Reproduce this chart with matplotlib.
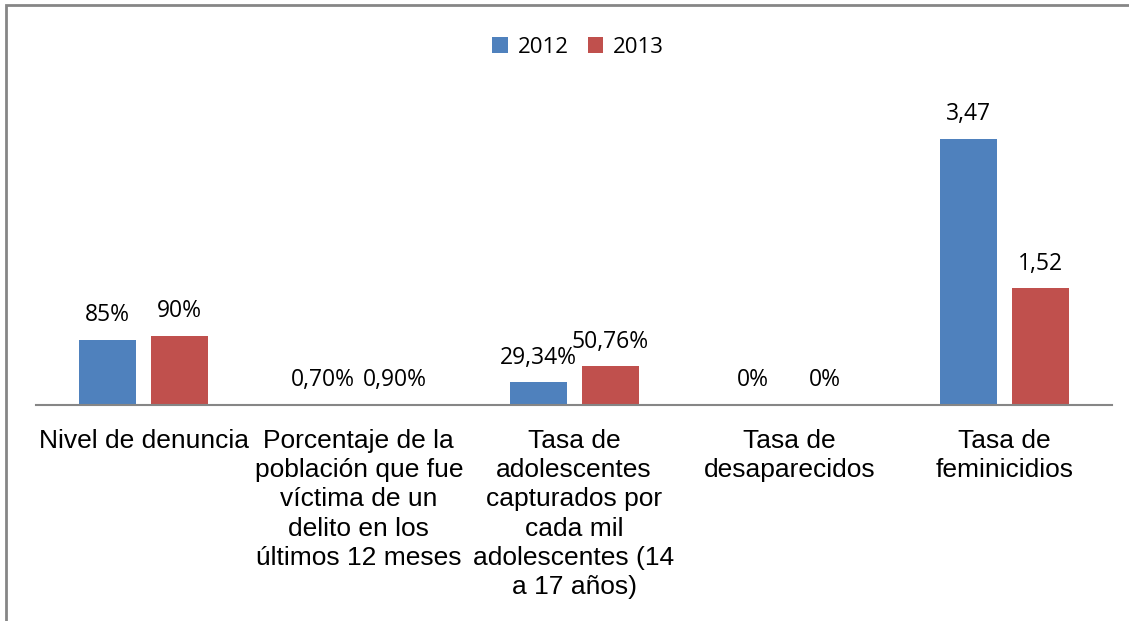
import numpy as np
import matplotlib.pyplot as plt
from matplotlib.patches import Rectangle

# categories and values (values plotted as raw numbers, like the original sheet)
categories = [
    'Nivel de denuncia',
    'Porcentaje de la\npoblación que fue\nvíctima de un\ndelito en los\núltimos 12 meses',
    'Tasa de\nadolescentes\ncapturados por\ncada mil\nadolescentes (14\na 17 años)',
    'Tasa de\ndesaparecidos',
    'Tasa de\nfeminicidios',
]
vals_2012 = [0.85, 0.007, 0.2934, 0.0, 3.47]
vals_2013 = [0.90, 0.009, 0.5076, 0.0, 1.52]
labels_2012 = ['85%', '0,70%', '29,34%', '0%', '3,47']
labels_2013 = ['90%', '0,90%', '50,76%', '0%', '1,52']

blue = '#4F81BD'
red = '#C0504D'
lbl_font = ['Open Sans', 'DejaVu Sans']
cat_font = ['Liberation Sans', 'DejaVu Sans']

fig = plt.figure(figsize=(11.29, 6.21), dpi=100)

# outer chart border (only left and top show in the crop)
fig.patches.append(Rectangle((6 / 1129, -0.1), 1.2, (621 - 4.5) / 621 + 0.1,
                             transform=fig.transFigure, fill=False,
                             edgecolor='#868686', linewidth=2))

ax = fig.add_axes([36 / 1129, (621 - 405) / 621, 1076 / 1129, 392 / 621])
x = np.arange(len(categories))
w = 57 / 215.2
gap = 15 / 215.2
b1 = ax.bar(x - (w + gap) / 2, vals_2012, w, color=blue, label='2012')
b2 = ax.bar(x + (w + gap) / 2, vals_2013, w, color=red, label='2013')

for bars, labs in [(b1, labels_2012), (b2, labels_2013)]:
    for rect, lab in zip(bars, labs):
        ax.annotate(lab, (rect.get_x() + rect.get_width() / 2, rect.get_height()),
                    xytext=(0, 9), textcoords='offset points',
                    ha='center', va='bottom', fontsize=16.5, family=lbl_font)

ax.set_xlim(-0.5, len(categories) - 0.5)
ax.set_ylim(0, 5.11)
ax.set_yticks([])
ax.set_xticks(x)
ax.set_xticklabels(categories, fontsize=19, family=cat_font, linespacing=1.28)
ax.tick_params(axis='x', length=0, pad=17)
for s in ['top', 'right', 'left']:
    ax.spines[s].set_visible(False)
ax.spines['bottom'].set_color('#868686')
ax.spines['bottom'].set_linewidth(1.5)

leg = ax.legend(loc='upper center', bbox_to_anchor=(0.504, 0.99), ncol=2, frameon=False,
                prop={'family': lbl_font, 'size': 16}, handlelength=0.7,
                handleheight=0.7, handletextpad=0.45, columnspacing=0.85)

fig.savefig('out.png', dpi=100)
